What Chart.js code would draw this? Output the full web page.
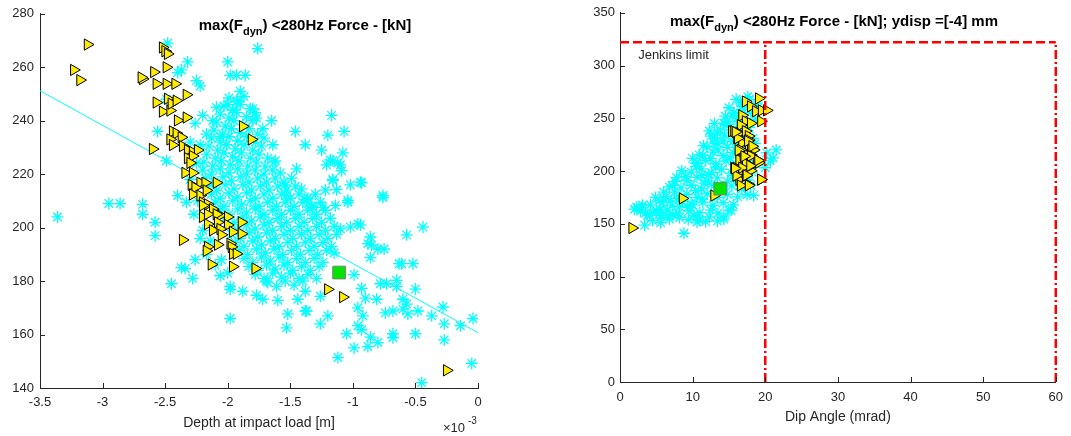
<!DOCTYPE html>
<html>
<head>
<meta charset="UTF-8">
<title>Fdyn scatter</title>
<style>
    html, body {
        margin: 0;
        padding: 0;
        background: #fff;
    }
    #wrap {
        position: relative;
        width: 1071px;
        height: 436px;
    }
    .box {
        position: absolute;
        top: 0;
        height: 436px;
    }
    #leftBox { left: 0; width: 535px; }
    #rightBox { left: 540px; width: 531px; }
</style>
</head>
<body>
<div id="wrap">
    <div class="box" id="leftBox"><canvas id="leftChart"></canvas></div>
    <div class="box" id="rightBox"><canvas id="rightChart"></canvas></div>
</div>
<script src="https://cdn.jsdelivr.net/npm/chart.js"></script>
<script>
// ---- left: force vs depth at impact load (x in 1e-3 m) ----
const leftCloud = [
    [-3.36,204],[-2.95,209],[-2.86,209],[-2.68,208.7],[-2.68,205],[-2.58,202],[-2.58,197],[-2.45,179],[-2.37,185],[-2.28,181],
    [-2.34,184.7],[-2.26,188],[-2.17,190],[-1.98,166],[-2.48,269],[-2.32,262],[-2.25,255],[-2.4,258],[-2.37,259],[-2.22,253],
    [-1.76,267],[-2.0,262],[-1.98,257],[-1.93,257],[-1.86,257],[-1.9,251],[-2.09,245],[-2.0,246],[-1.96,244],[-1.92,247.5],
    [-1.8,244.5],[-1.77,241],[-1.65,240],[-1.72,237],[-2.2,242],[-2.12,240],[-2.17,235],[-2.06,234],[-2.22,231],[-2.56,236],
    [-2.49,225],[-2.49,248],[-2.26,239],[-1.64,231],[-1.62,225],[-1.54,216],[-1.53,212],[-1.45,222],[-1.46,236],[-1.38,231],
    [-1.2,234.6],[-1.17,242],[-1.07,236],[-1.25,229],[-1.08,228],[-1.16,225],[-1.1,223.5],[-0.94,217],[-1.02,216],[-0.76,212],
    [-1.22,214],[-1.16,218],[-1.04,209.5],[-1.37,210.5],[-1.32,207.6],[-2.4,212],[-2.33,209.5],[-1.12,224.2],[-1.09,221.3],[-1.21,223.5],
    [-1.16,217.6],[-0.93,216.8],[-1.13,214.2],[-1.04,210.2],[-1.24,207.6],[-1.14,208.3],[-0.76,211.3],[-1.18,225.3],
    [-0.44,200.2],[-0.57,197.3],[-0.86,196.5],[-0.88,194],[-0.85,193.5],[-0.75,192],[-0.86,188.8],[-0.94,201],[-1.02,200.2],[-0.61,186.5],
    [-0.52,186.5],[-0.78,179],[-0.73,179],[-0.65,180.3],[-0.65,178],[-0.5,177],[-0.93,177.3],[-0.9,173.6],[-0.81,173.2],[-0.99,182.4],
    [-0.6,173.2],[-0.57,171.4],[-0.6,169.5],[-0.74,168.1],[-0.68,168.8],[-0.56,167.7],[-0.48,168.8],[-0.37,167],[-0.28,170.3],[-0.27,164],
    [-0.14,163.3],[-0.04,166],[-0.96,170],[-0.96,163.3],[-0.92,167],[-1.05,160.3],[-0.93,161.8],[-0.86,159],[-0.8,157],[-0.88,155.5],
    [-0.99,155],[-0.68,160.3],[-0.68,158.8],[-0.5,160.3],[-0.27,158],[-1.12,151.4],[-0.05,149.2],[-0.45,142],[-1.26,164],[-1.2,167],
    [-1.37,168.8],[-1.52,167.7],[-1.53,162.5],[-1.38,168.8],[-1.6,172.8],[-1.72,173.2],[-1.77,174.7],[-1.88,176.2],[-1.98,176.9],[-1.98,178],
    [-2.06,182],[-1.69,180],[-1.38,176.2],[-1.44,173.2],[-1.26,174.3],[-0.96,201.4],[-0.8,192],[-0.63,186.5],
    [-2.3,232],[-2.25,224],[-2.3,218],[-2.24,210],[-2.27,205],[-2.2,199],[-2.14,195],[-2.22,196],[-2.1,186],[-2.05,188],[-2.0,183],
    [-1.99,248.5],[-1.93,247],[-1.87,249],
    [-2.03,245.5],[-1.96,244],[-1.9,246],[-1.82,244.5],
    [-2.06,242.5],[-1.99,241],[-1.93,243],[-1.85,241.5],[-1.78,243],
    [-2.09,239.5],[-2.02,238],[-1.95,240],[-1.88,238.5],[-1.8,240],
    [-2.11,236.5],[-2.04,235],[-1.97,237],[-1.9,235.5],[-1.83,237],[-1.76,235],
    [-2.13,233.5],[-2.06,232],[-1.99,234],[-1.92,232.5],[-1.85,234],[-1.78,232],[-1.71,233.5],
    [-2.15,230.5],[-2.08,229],[-2.01,231],[-1.94,229.5],[-1.87,231],[-1.8,229],[-1.73,230.5],
    [-2.17,227.5],[-2.1,226],[-2.03,228],[-1.96,226.5],[-1.89,228],[-1.82,226],[-1.75,227.5],[-1.68,226],
    [-2.19,224.5],[-2.12,223],[-2.05,225],[-1.98,223.5],[-1.91,225],[-1.84,223],[-1.77,224.5],[-1.7,223],[-1.63,224.5],
    [-2.2,221.5],[-2.13,220],[-2.06,222],[-1.99,220.5],[-1.92,222],[-1.85,220],[-1.78,221.5],[-1.71,220],[-1.64,221.5],[-1.58,220.5],
    [-2.18,218.5],[-2.11,217],[-2.04,219],[-1.97,217.5],[-1.9,219],[-1.83,217],[-1.76,218.5],[-1.69,217],[-1.62,218.5],[-1.55,217],[-1.49,218.5],
    [-2.16,215.5],[-2.09,214],[-2.02,216],[-1.95,214.5],[-1.88,216],[-1.81,214],[-1.74,215.5],[-1.67,214],[-1.6,215.5],[-1.53,214],[-1.46,215.5],[-1.41,214.5],
    [-2.13,212.5],[-2.06,211],[-1.99,213],[-1.92,211.5],[-1.85,213],[-1.78,211],[-1.71,212.5],[-1.64,211],[-1.57,212.5],[-1.5,211],[-1.43,212.5],[-1.36,211],[-1.3,212.5],
    [-2.1,209.5],[-2.03,208],[-1.96,210],[-1.89,208.5],[-1.82,210],[-1.75,208],[-1.68,209.5],[-1.61,208],[-1.54,209.5],[-1.47,208],[-1.4,209.5],[-1.33,208],[-1.26,209.5],
    [-2.06,206.5],[-1.99,205],[-1.92,207],[-1.85,205.5],[-1.78,207],[-1.71,205],[-1.64,206.5],[-1.57,205],[-1.5,206.5],[-1.43,205],[-1.36,206.5],[-1.29,205],[-1.22,206.5],
    [-2.02,203.5],[-1.95,202],[-1.88,204],[-1.81,202.5],[-1.74,204],[-1.67,202],[-1.6,203.5],[-1.53,202],[-1.46,203.5],[-1.39,202],[-1.32,203.5],[-1.25,202],[-1.18,203.5],
    [-1.99,200.5],[-1.92,199],[-1.85,201],[-1.78,199.5],[-1.71,201],[-1.64,199],[-1.57,200.5],[-1.5,199],[-1.43,200.5],[-1.36,199],[-1.29,200.5],[-1.22,199],[-1.15,200.5],[-1.1,199.5],
    [-1.97,197.5],[-1.9,196],[-1.83,198],[-1.76,196.5],[-1.69,198],[-1.62,196],[-1.55,197.5],[-1.48,196],[-1.41,197.5],[-1.34,196],[-1.27,197.5],[-1.2,196],[-1.13,197.5],
    [-1.94,194.5],[-1.87,193],[-1.8,195],[-1.73,193.5],[-1.66,195],[-1.59,193],[-1.52,194.5],[-1.45,193],[-1.38,194.5],[-1.31,193],[-1.24,194.5],[-1.17,193],
    [-1.91,191.5],[-1.84,190],[-1.77,192],[-1.7,190.5],[-1.63,192],[-1.56,190],[-1.49,191.5],[-1.42,190],[-1.35,191.5],[-1.28,190],[-1.21,191.5],[-1.15,190.5],
    [-1.87,188.5],[-1.8,187],[-1.73,189],[-1.66,187.5],[-1.59,189],[-1.52,187],[-1.45,188.5],[-1.38,187],[-1.31,188.5],[-1.24,187],
    [-1.83,185.5],[-1.76,184],[-1.69,186],[-1.62,184.5],[-1.55,186],[-1.48,184],[-1.41,185.5],[-1.34,184],[-1.27,185.5],
    [-1.78,182.5],[-1.71,181],[-1.64,183],[-1.57,181.5],[-1.5,183],[-1.43,181],[-1.36,182.5],[-1.29,181],
    [-1.68,179.5],[-1.61,178],[-1.54,180],[-1.47,178.5],[-1.4,180]
];
const leftTriangles = [
    [-3.12,268.5],[-3.23,259],[-3.18,255.2],[-2.52,267.4],[-2.5,266],[-2.48,265],[-2.49,260],
    [-2.68,255.6],[-2.69,256.2],[-2.59,258.2],[-2.57,253.8],[-2.49,253.8],[-2.42,253.8],[-2.33,249.7],
    [-2.57,246.8],[-2.52,243.4],[-2.46,243.8],[-2.48,248.2],[-2.45,246.4],[-2.41,247.5],[-2.4,240.1],[-2.33,241.2],
    [-2.44,236],[-2.41,235.3],[-2.37,233.8],[-2.46,233],[-2.44,230.9],[-2.36,230.5],[-2.6,229.4],
    [-2.32,229],[-2.28,228.3],[-2.24,229],[-2.32,226],[-2.28,226.8],[-2.3,224.2],[-2.34,220.5],[-2.28,220.5],[-2.29,216],
    [-1.88,237.9],[-1.81,233],
    [-2.22,216.8],[-2.26,215],[-2.18,216.8],[-2.09,216.8],[-2.28,212.4],[-2.22,212],[-2.17,213.9],[-2.2,209.4],[-2.16,208.7],
    [-2.12,206.9],[-2.06,204.6],[-2.2,208.3],[-2.2,204],[-2.16,205],[-2.16,201.3],[-2.09,205],[-2.08,202],[-2.0,204],[-2.0,201],
    [-2.12,199],[-2.06,199.5],[-2.05,197.3],[-1.96,198.4],[-1.89,202],[-1.89,197.7],[-1.98,194],[-2.08,193.6],[-1.97,192.8],
    [-2.16,192.8],[-2.17,191.3],[-1.96,190.2],[-1.93,190.2],[-2.36,195.4],[-2.13,186.2],[-1.96,185.4],[-1.78,184.7],
    [-1.2,176.9],[-1.08,174],[-0.25,146.6]
];
const leftSquare = [[-1.11,183.2]];
const leftFit = [[-3.5,251.2],[0,160.7]];
const leftXRange = [-3.5, 0];
const leftYRange = [140, 280];

// ---- right: force vs dip angle ----
const rightCloud = [
    [2.3,165.7],[3.1,167.5],[3.4,148.7],[3.8,158],[5.0,162.8],[5.7,158],[5.5,172],[6.5,158],[7.8,193.8],[8.5,200.3],
    [8.8,141],[9.8,168.5],[10.6,151.6],[10.9,215.3],[12.5,233.1],[14.3,156.3],[15.0,162.8],[18.4,176.9],[20.0,203.1],[21.1,212.5],
    [21.5,220],[20.7,209.7],[20.2,217.2],[7.2,186.3],[2.0,163.8],[3.0,165.6],[5.5,163.8],[4.1,158],[5.7,156.3],[10.9,153.5],
    [10.6,156.3],[14.3,154.4],[15.3,162.8],[10.6,208],[13.0,226.6],[13.4,236],[14.3,245.3],[15.7,254.7],[16.8,261.3],
    [5,161],[6.5,163],[8,160],[9.5,162],[11,160.5],[12.5,163],[13.5,160],[7.3,158.5],[10.2,158],
    [4.2,168],[5.8,170],[7.2,167],[8.6,171],[10,168],[11.4,170.5],[12.8,167.5],[14.2,170],[15.6,168],[9.3,165.5],
    [6.4,176],[7.8,174],[9.2,178],[10.6,175],[12,178.5],[13.4,175],[14.8,178],[16.2,175.5],[17.5,177.5],[11.3,173.5],
    [8.4,184],[9.8,186.5],[11.2,183],[12.6,187],[14,184.5],[15.4,186],[16.8,183],[18,186.5],[10.4,181.5],[13.3,181],
    [9.2,191],[10.6,194],[12,190.5],[13.4,193.5],[14.8,190],[16.2,193],[17.6,191.5],[11.3,196],[15.5,196],
    [9.8,199],[11.2,202],[12.6,198.5],[14,201.5],[15.4,198],[16.8,202.5],[18.2,199],[13.2,204],[10.5,204.5],
    [10.4,207],[11.8,210],[13.2,206.5],[14.6,209.5],[16,206],[17.4,210],[12.5,212],[15.2,212.5],[18.6,207],
    [11.4,215],[12.8,218],[14.2,214.5],[15.6,217.5],[17,215],[18.3,218.5],[13.5,220],[16.4,220.5],
    [12,223],[13.4,226],[14.8,222.5],[16.2,225.5],[17.5,223],[15.5,228],[18.6,226],
    [13,231],[14.4,234],[15.8,230.5],[17.2,233.5],[18.3,231],[14.2,228.5],
    [13.8,239],[15.2,242],[16.6,238.5],[17.8,241.5],[14.6,244],[16.3,244.5],
    [14.8,247],[16.2,250],[17.5,246.5],[18.6,249],[15.5,252],
    [15.6,255],[16.8,258.5],[18,255.5],[17.2,262],[19,260],
    [16.6,265],[17.8,268],[18.8,264.5],[17.6,270.5],
    [4.5,153],[5.6,151],[6.8,154.5],[4.9,175],[6,180],[6.8,185],[7.6,190],[3.5,160],[2.8,162],[8.2,156],[9.4,154],[12.3,156.5],[11.8,152],[13.4,152.5],
    [7.5,180],[9,195],[10,212],[11.5,224],[12.3,238],[13,245],[14.5,252],[15,260],[16,268],[8.2,166.5],[6.9,171.5],[12.2,196.5],[11.6,188.5]
];
const rightTriangles = [
    [1.67,146],[8.6,174],[12.95,176.7],
    [17.3,265.9],[19.1,268.8],[18.0,261.3],[18.7,256.6],[19.5,257.5],[20.2,257.5],[19.4,247.2],
    [16.8,252.8],[17.3,247.2],[18.0,245.3],[16.6,243.5],
    [15.4,237.8],[16.4,236],[17.3,237.8],[17.7,233.1],[16.8,226.6],[17.7,224.7],[18.4,220],[17.0,217.2],[18.0,215.3],
    [16.4,210.6],[17.3,207.8],[18.8,207.8],[16.0,203.1],[16.8,200.3],[18.0,200.3],[19.4,191.9],[16.4,191.9],[17.7,187.2],[16.6,186.3],
    [15.7,237.8],[16.1,231.2],[17.7,229.4],[18.0,223.7],[16.6,220],[17.0,214.4],[18.0,214.4],[19.1,209.7],[15.7,203.1],
    [16.8,203.1],[18,205],[19.1,207.8],[16,195.6],[17.3,195.6],[19.4,191.9],[17.7,186.3],
    [17.6,228.5],[18.2,223.5],[16.3,219.5],[17.1,214],[19.0,210],[15.8,202.5],[17.4,196],[16.2,231],[15.9,237],[17.9,205]
];
const rightSquare = [[13.8,183.3]];
const jenkinsY = 322;
const limitX = [20, 60];
const rightXRange = [0, 60];
const rightYRange = [0, 350];

const FONT = '"Liberation Sans", Arial, Helvetica, sans-serif';
const axisColor = '#262626';
const cyan = '#00ffff';
const yellow = '#ffec00';

const pts = arr => arr.map(([x, y]) => ({x, y}));

const inwardTicks = {
    id: 'inwardTicks',
    afterDraw(chart) {
        const ctx = chart.ctx, a = chart.chartArea;
        const xs = chart.scales.x, ys = chart.scales.y;
        ctx.save();
        ctx.strokeStyle = axisColor;
        ctx.lineWidth = 1;
        ctx.beginPath();
        xs.ticks.forEach(t => {
            const px = Math.round(xs.getPixelForValue(t.value)) + 0.5;
            ctx.moveTo(px, a.bottom);
            ctx.lineTo(px, a.bottom - 5);
        });
        ys.ticks.forEach(t => {
            const py = Math.round(ys.getPixelForValue(t.value)) + 0.5;
            ctx.moveTo(a.left, py);
            ctx.lineTo(a.left + 5, py);
        });
        ctx.stroke();
        ctx.restore();
    }
};

function drawTitle(ctx, cx, base, pre, sub, post) {
    const big = 'bold 15px ' + FONT;
    const small = 'bold 11px ' + FONT;
    ctx.font = big;
    const w1 = ctx.measureText(pre).width;
    const w3 = ctx.measureText(post).width;
    ctx.font = small;
    const w2 = ctx.measureText(sub).width;
    let x = cx - (w1 + w2 + w3) / 2;
    ctx.fillStyle = '#000';
    ctx.textAlign = 'left';
    ctx.textBaseline = 'alphabetic';
    ctx.font = big;
    ctx.fillText(pre, x, base);
    x += w1;
    ctx.font = small;
    ctx.fillText(sub, x, base + 5);
    x += w2;
    ctx.font = big;
    ctx.fillText(post, x, base);
}

function scaleOpts(range, step, width, height, pad, titleText, titlePadBottom) {
    const o = {
        type: 'linear',
        min: range[0],
        max: range[1],
        grid: {display: false, drawTicks: false},
        border: {display: true, color: axisColor, width: 1},
        ticks: {
            stepSize: step,
            color: axisColor,
            padding: pad,
            font: {family: FONT, size: 13},
            callback: v => String(Math.round(v * 10) / 10)
        }
    };
    if (width) o.afterFit = s => { s.width = width; };
    if (height) o.afterFit = s => { s.height = height; };
    if (titleText) {
        o.title = {
            display: true,
            text: titleText,
            color: axisColor,
            font: {family: FONT, size: 14},
            padding: {top: 0, bottom: titlePadBottom}
        };
    }
    return o;
}

const baseOpts = {
    responsive: true,
    maintainAspectRatio: false,
    animation: false,
    events: [],
    plugins: {legend: {display: false}, tooltip: {enabled: false}}
};

const starStyle = {pointStyle: 'star', pointRadius: 6, borderColor: cyan, backgroundColor: cyan, borderWidth: 1.3, order: 4};
const triStyle = {pointStyle: 'triangle', pointRotation: 90, pointRadius: 6.5, backgroundColor: yellow, borderColor: '#000', borderWidth: 1, order: 2};
const squareStyle = {pointStyle: 'rect', pointRadius: 9, backgroundColor: '#00e600', borderColor: '#7f7f7f', borderWidth: 1, order: 1};

// left chart
new Chart(document.getElementById('leftChart'), {
    type: 'scatter',
    data: {
        datasets: [
            Object.assign({data: pts(leftSquare)}, squareStyle),
            Object.assign({data: pts(leftTriangles)}, triStyle),
            {data: pts(leftFit), showLine: true, pointRadius: 0, borderColor: cyan, borderWidth: 1, order: 3},
            Object.assign({data: pts(leftCloud)}, starStyle)
        ]
    },
    options: Object.assign({}, baseOpts, {
        layout: {padding: {left: 0, right: 57, top: 9, bottom: 0}},
        scales: {
            x: scaleOpts(leftXRange, 0.5, null, 48, 7, 'Depth at impact load [m]', 4),
            y: scaleOpts(leftYRange, 20, 40, null, 6)
        }
    }),
    plugins: [inwardTicks, {
        id: 'leftText',
        afterDraw(chart) {
            const ctx = chart.ctx;
            ctx.save();
            drawTitle(ctx, 305, 30, 'max(F', 'dyn', ') <280Hz Force - [kN]');
            ctx.fillStyle = axisColor;
            ctx.font = '13px ' + FONT;
            ctx.fillText('\u00d710', 443, 432);
            ctx.font = '10px ' + FONT;
            ctx.fillText('-3', 468, 424);
            ctx.restore();
        }
    }]
});

// right chart
const redLine = {showLine: true, pointRadius: 0, borderColor: '#ff0000', borderWidth: 2.5, clip: false, order: 0};
new Chart(document.getElementById('rightChart'), {
    type: 'scatter',
    data: {
        datasets: [
            Object.assign({data: pts([[rightXRange[0], jenkinsY], [rightXRange[1], jenkinsY]]), borderDash: [9, 4]}, redLine),
            Object.assign({data: pts([[limitX[0], 0], [limitX[0], jenkinsY]]), borderDash: [9, 3, 2, 3]}, redLine),
            Object.assign({data: pts([[limitX[1], 0], [limitX[1], jenkinsY]]), borderDash: [9, 3, 2, 3]}, redLine),
            Object.assign({data: pts(rightSquare)}, squareStyle),
            Object.assign({data: pts(rightTriangles)}, triStyle),
            Object.assign({data: pts(rightCloud)}, starStyle)
        ]
    },
    options: Object.assign({}, baseOpts, {
        layout: {padding: {left: 0, right: 11, top: 8, bottom: 0}},
        scales: {
            x: scaleOpts(rightXRange, 10, null, 54, 8, 'Dip Angle (mrad)', 10),
            y: scaleOpts(rightYRange, 50, 80, null, 5)
        }
    }),
    plugins: [inwardTicks, {
        id: 'rightText',
        afterDraw(chart) {
            const ctx = chart.ctx;
            ctx.save();
            drawTitle(ctx, 294, 25.5, 'max(F', 'dyn', ') <280Hz Force - [kN]; ydisp =[-4] mm');
            ctx.fillStyle = axisColor;
            ctx.font = '13px ' + FONT;
            ctx.textAlign = 'left';
            ctx.fillText('Jenkins limit', chart.scales.x.getPixelForValue(2.5), chart.scales.y.getPixelForValue(306));
            ctx.restore();
        }
    }]
});
</script>
</body>
</html>
